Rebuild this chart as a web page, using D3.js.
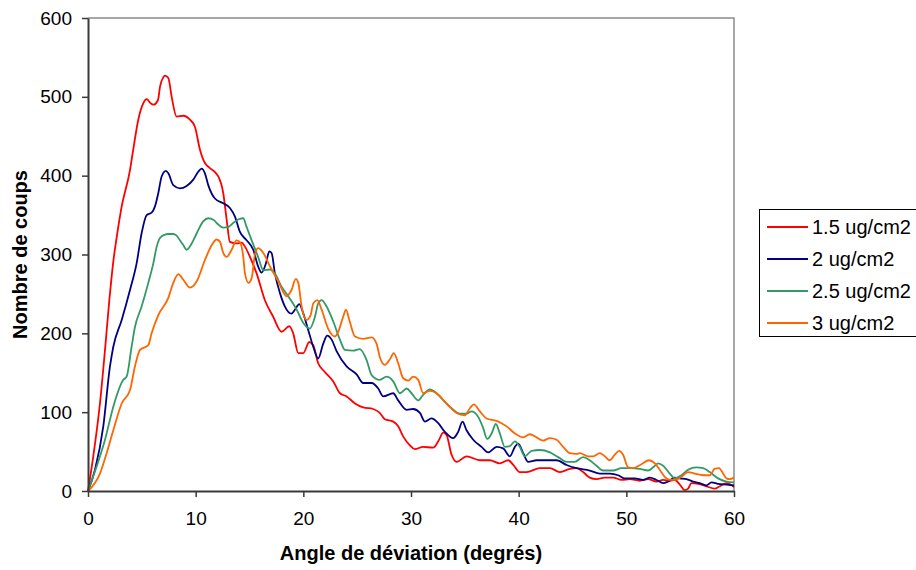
<!DOCTYPE html>
<html>
<head>
<meta charset="utf-8">
<script src="https://cdn.jsdelivr.net/npm/d3@7"></script>
<style>
  html, body { margin: 0; padding: 0; background: #fff; }
  svg { display: block; font-family: "Liberation Sans", Arial, sans-serif; }
</style>
</head>
<body>
<svg id="chart" width="916" height="570"></svg>
<script>
// ---- data ----
const seriesNames = ["1.5 ug/cm2", "2 ug/cm2", "2.5 ug/cm2", "3 ug/cm2"];
const seriesColors = ["#FF0000", "#000080", "#339966", "#FF6600"];
const xTicks = [0, 10, 20, 30, 40, 50, 60];
const yTicks = [0, 100, 200, 300, 400, 500, 600];

const s15 = [[0,0],[0.49,44],[1.11,111],[1.58,179],[1.98,242],[2.35,291],[2.7,325],[3.13,361],[3.9,407],[4.2,433],[4.67,471],[5.14,492],[5.45,497],[5.8,492],[6.07,490],[6.5,496],[6.69,513],[7.0,525],[7.15,527],[7.46,524],[7.77,500],[8.23,475],[8.85,476],[9.47,471],[9.93,462],[10.4,433],[10.86,416],[11.3,410],[12.1,399],[12.56,378],[12.88,344],[13.18,316],[13.8,314],[14.27,315],[14.58,310],[15.04,297],[15.66,276],[16.43,242],[17.2,221],[17.98,202],[18.7,209],[19.06,200],[19.53,175],[20,175],[20.55,189],[20.92,185],[21.38,162],[22,151],[22.78,139],[23.4,124],[24.02,120],[24.8,111],[25.56,106],[26.49,104],[27.1,99],[27.57,91],[28.35,88],[28.81,82],[29.28,69],[29.9,58],[30.36,53],[31.13,56],[32.06,55],[32.53,63],[33,74],[33.3,71],[33.77,46],[34.23,37],[35.16,44],[36.4,39],[37.33,39],[38.25,35],[39.03,39],[39.5,33],[40.1,24],[40.73,24],[41.97,29],[42.9,29],[43.83,24],[44.75,28],[45.37,29],[45.99,24],[46.6,17],[47.23,15],[48,17],[48.78,17],[49.55,14],[50.33,15],[51.25,13],[52.02,15],[52.8,12],[53.42,14],[54.04,13],[54.5,14],[54.97,8],[55.43,1],[55.74,3],[56.05,10],[56.67,9],[57.44,6],[58.2,3],[58.68,6],[59.3,10],[60,5]];

const s20 = [[0,0],[0.65,27],[1.42,82],[2.04,158],[2.35,183],[3.13,217],[3.9,255],[4.52,289],[4.98,327],[5.45,350],[5.91,353],[6.22,361],[6.53,378],[6.84,399],[7.24,406],[7.46,403],[7.92,388],[8.54,384],[9.16,387],[9.78,395],[10.24,405],[10.55,409],[10.86,403],[11.17,388],[11.79,371],[12.56,365],[13.18,359],[13.65,348],[14.1,329],[14.73,318],[15.35,306],[15.8,285],[16.12,277],[16.53,289],[16.84,304],[17.05,302],[17.36,276],[17.83,251],[18.29,234],[18.9,225],[19.22,230],[19.62,237],[20,225],[20.46,204],[20.92,183],[21.38,168],[21.85,187],[22.22,197],[22.63,192],[23.1,177],[24.02,158],[24.95,148],[25.56,137],[26.34,137],[26.96,130],[27.42,120],[28.35,124],[28.81,115],[29.6,103],[30.2,104],[30.83,99],[31.3,88],[31.9,92],[32.53,86],[33.15,75],[33.92,67],[34.38,75],[34.78,88],[35.16,77],[35.78,65],[36.55,56],[37.17,49],[37.95,56],[38.56,54],[39.18,44],[39.65,56],[39.96,60],[40.42,48],[40.88,37],[41.66,39],[42.59,39],[43.52,39],[44.45,33],[45.37,29],[46.6,26],[47.54,22],[48.47,22],[49.24,20],[49.86,16],[50.79,16],[51.56,14],[52.18,17],[52.8,14],[53.42,10],[53.88,12],[54.5,17],[54.97,16],[55.58,15],[56.2,12],[56.82,10],[57.44,7],[57.91,11],[58.52,9],[59.3,8],[60,7]];

const s25 = [[0,0],[0.8,31],[1.58,65],[2.35,107],[3.28,141],[3.59,145],[4.05,183],[4.36,208],[4.98,234],[5.6,264],[6.07,289],[6.38,310],[6.69,321],[7.1,325],[7.46,326],[7.9,326],[8.23,324],[8.54,318],[8.85,312],[9.16,306],[9.63,314],[10.1,327],[10.7,342],[11.17,346],[11.64,344],[12.1,338],[12.56,334],[13.03,335],[13.49,340],[14.05,345],[14.42,346],[14.73,335],[15.2,318],[15.8,297],[16.28,280],[16.9,281],[17.36,276],[17.98,259],[18.6,247],[19.38,230],[20,213],[20.6,206],[21.08,221],[21.38,238],[21.7,242],[22.16,234],[22.78,215],[23.4,192],[23.86,179],[24.63,178],[25.25,180],[25.88,166],[26.34,147],[27.1,141],[27.73,145],[28.35,139],[28.97,124],[29.6,130],[30.05,124],[30.67,115],[31.13,122],[31.75,129],[32.2,126],[33,115],[33.77,105],[34.54,98],[35.16,98],[35.63,101],[36.24,94],[36.7,80],[37.08,66],[37.49,73],[37.88,85],[38.25,73],[38.72,56],[39.18,57],[39.65,63],[40.1,56],[40.58,44],[41.2,51],[41.97,52],[42.9,49],[43.67,43],[44.45,37],[45.2,37],[45.99,43],[46.6,39],[47.23,32],[47.85,26],[48.78,26],[49.55,29],[50.48,29],[51.25,28],[52.02,26],[52.49,30],[52.95,35],[53.42,32],[54.04,22],[54.5,16],[55.12,20],[55.74,27],[56.5,30],[57.13,29],[57.75,24],[58.52,16],[59.3,12],[60,11]];

const s30 = [[0,0],[1.11,22],[1.73,48],[2.35,77],[3.13,111],[3.9,128],[4.36,158],[4.83,179],[5.6,185],[5.91,200],[6.53,223],[7.46,245],[7.92,264],[8.39,275],[8.85,268],[9.47,258],[10.1,266],[10.86,293],[11.5,312],[11.95,319],[12.26,316],[12.56,302],[12.88,297],[13.34,306],[13.8,318],[14.1,316],[14.42,297],[14.58,276],[14.9,264],[15.2,270],[15.5,300],[15.8,308],[16.28,302],[16.9,285],[17.67,266],[18.45,247],[18.9,255],[19.3,269],[19.53,264],[19.84,234],[20.3,217],[20.68,223],[20.92,238],[21.3,242],[21.7,230],[22.3,206],[22.93,196],[23.24,202],[23.7,221],[23.96,230],[24.27,217],[24.8,196],[25.56,193],[26.34,195],[26.8,187],[27.1,170],[27.57,160],[28.04,167],[28.4,175],[28.81,162],[29.28,143],[29.74,140],[30.2,145],[30.67,141],[31.13,124],[31.75,127],[32.38,124],[33.3,111],[34.23,99],[35,96],[35.47,105],[35.84,110],[36.4,101],[37.02,92],[37.95,89],[38.88,82],[39.65,73],[40.42,68],[41.04,72],[41.66,68],[42.28,64],[42.9,67],[43.52,65],[44.13,56],[44.75,48],[45.37,47],[45.68,48],[46.45,44],[46.92,44],[47.54,48],[48,44],[48.47,39],[48.93,46],[49.33,51],[49.7,46],[50.17,30],[50.63,29],[51.4,34],[52.1,39],[52.65,35],[53.1,27],[53.57,18],[54.04,14],[54.5,14],[55.12,18],[55.74,24],[56.36,22],[57.13,20],[57.75,20],[58.2,28],[58.6,29],[59,22],[59.3,16],[59.6,15],[60,17]];

const allSeries = [s15, s20, s25, s30];

// ---- layout ----
const svg = d3.select("#chart");
const plotL = 88, plotR = 734, plotT = 18, plotB = 491;
const tickFont = 19, titleFont = 20, legendFont = 20;

const x = d3.scaleLinear().domain([0, 60]).range([plotL, plotR]);
const y = d3.scaleLinear().domain([0, 600]).range([plotB, plotT]);

svg.append("rect").attr("width", 916).attr("height", 570).attr("fill", "#fff");

// plot area frame (top & right in gray)
svg.append("path")
  .attr("d", `M${plotL},${plotT}H${plotR}V${plotB}`)
  .attr("fill", "none").attr("stroke", "#8c8c8c").attr("stroke-width", 1.5);

// lines
const line = d3.line().x(d => x(d[0])).y(d => y(d[1])).curve(d3.curveMonotoneX);
allSeries.forEach((s, i) => {
  svg.append("path").datum(s)
    .attr("d", line)
    .attr("fill", "none")
    .attr("stroke", seriesColors[i])
    .attr("stroke-width", 1.8)
    .attr("stroke-linejoin", "round");
});

// axes
const xAxis = d3.axisBottom(x).tickValues(xTicks).tickSize(6).tickSizeOuter(0).tickPadding(15);
const gx = svg.append("g").attr("transform", `translate(0,${plotB})`).call(xAxis);
const yAxis = d3.axisLeft(y).tickValues(yTicks).tickSize(6).tickSizeOuter(0).tickPadding(10);
const gy = svg.append("g").attr("transform", `translate(${plotL},0)`).call(yAxis);
[gx, gy].forEach(g => {
  g.select(".domain").attr("stroke", "#3a3a3a").attr("stroke-width", 2);
  g.selectAll(".tick line").attr("stroke", "#3a3a3a").attr("stroke-width", 1.5);
  g.selectAll(".tick text").attr("fill", "#000").attr("font-size", tickFont)
    .attr("font-family", "'Liberation Sans', Arial, sans-serif");
});

// axis titles
svg.append("text")
  .attr("x", (plotL + plotR) / 2).attr("y", 560)
  .attr("text-anchor", "middle").attr("font-weight", "bold").attr("font-size", titleFont)
  .text("Angle de déviation (degrés)");
svg.append("text")
  .attr("transform", `translate(27,${(plotT + plotB) / 2}) rotate(-90)`)
  .attr("text-anchor", "middle").attr("font-weight", "bold").attr("font-size", titleFont)
  .text("Nombre de coups");

// legend
const lg = svg.append("g");
lg.append("rect").attr("x", 759.5).attr("y", 209.5).attr("width", 170).attr("height", 127)
  .attr("fill", "#fff").attr("stroke", "#000").attr("stroke-width", 1);
seriesNames.forEach((name, i) => {
  const yy = 227 + i * 32;
  lg.append("line").attr("x1", 767).attr("x2", 808).attr("y1", yy).attr("y2", yy)
    .attr("stroke", seriesColors[i]).attr("stroke-width", 1.8);
  lg.append("text").attr("x", 812).attr("y", yy).attr("dy", "0.35em")
    .attr("font-size", legendFont).text(name);
});
</script>
</body>
</html>
